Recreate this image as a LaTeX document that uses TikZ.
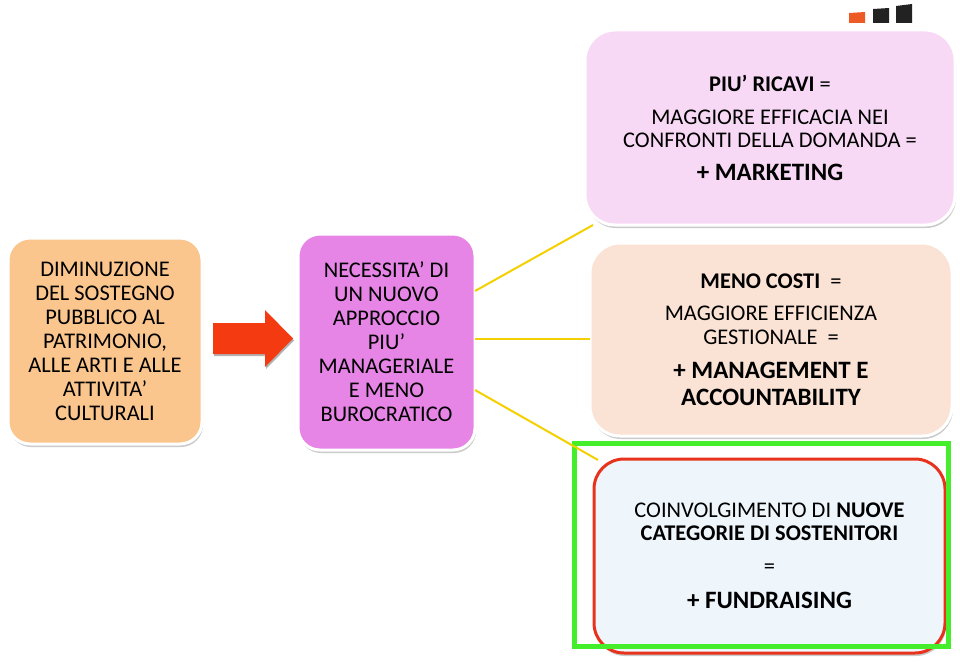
\documentclass[tikz,border=0pt]{standalone}
\usepackage{fontspec}
\setmainfont{Carlito}
\usetikzlibrary{shadows}
\definecolor{orangebox}{HTML}{FBC68E}
\definecolor{violetbox}{HTML}{E685E6}
\definecolor{pinkbox}{HTML}{F8D9F5}
\definecolor{peachbox}{HTML}{FAE2D5}
\definecolor{bluebox}{HTML}{EEF6FC}
\definecolor{redline}{HTML}{E8331C}
\definecolor{greenline}{HTML}{44EE2A}
\definecolor{yellowline}{HTML}{F4D000}
\definecolor{arrowred}{HTML}{F43A10}
\definecolor{logoorange}{HTML}{EE5A24}
\definecolor{logoblack}{HTML}{222222}
\newcommand{\bigb}{\fontsize{25}{27}\selectfont\bfseries}
\tikzset{
  box/.style={rectangle, rounded corners=22pt, draw=white, line width=3pt,
    align=center, inner sep=0pt,
    drop shadow={shadow xshift=1pt, shadow yshift=-3pt, opacity=0.35, fill=black!60},
    font=\fontsize{22.4}{24}\selectfont},
  conn/.style={draw=yellowline, line width=2pt},
}
\begin{document}
\begin{tikzpicture}[x=1pt,y=-1pt]
\useasboundingbox (0,0) rectangle (960,661);
% logo
\fill[logoorange] (849,13) -- (865,12) -- (865,23) -- (849,23) -- cycle;
\fill[logoblack] (873,9) -- (889,8) -- (889,23) -- (873,23) -- cycle;
\fill[logoblack] (896,6) -- (912,4) -- (912,23) -- (896,23) -- cycle;
% boxes
\node[box, fill=orangebox, minimum width=194pt, minimum height=206pt] (left) at (105,341)
  {DIMINUZIONE\\DEL SOSTEGNO\\PUBBLICO AL\\PATRIMONIO,\\ALLE ARTI E ALLE\\ATTIVITA’\\CULTURALI};
\node[box, fill=violetbox, minimum width=177pt, minimum height=216pt] (mid) at (386.5,342)
  {NECESSITA’ DI\\UN NUOVO\\APPROCCIO\\PIU’\\MANAGERIALE\\E MENO\\BUROCRATICO};
\node[box, fill=pinkbox, rounded corners=30pt, minimum width=370pt, minimum height=195pt,
  font=\fontsize{22.4}{23}\selectfont] (top) at (770,127.5)
  {\textbf{PIU’ RICAVI} =\\[10pt]MAGGIORE EFFICACIA NEI\\CONFRONTI DELLA DOMANDA =\\[10pt]\bigb + MARKETING};
\node[box, fill=peachbox, rounded corners=30pt, minimum width=362pt, minimum height=193pt,
  font=\fontsize{22.4}{24}\selectfont] (cost) at (771,339.5)
  {\textbf{MENO COSTI} \ =\\[8pt]MAGGIORE EFFICIENZA\\GESTIONALE \ =\\[10pt]\bigb + MANAGEMENT E\\[3pt]\bigb ACCOUNTABILITY};
\node[box, fill=bluebox, draw=redline, rounded corners=30pt, minimum width=351pt, minimum height=194pt,
  font=\fontsize{22.4}{23}\selectfont] (fund) at (769.5,556)
  {COINVOLGIMENTO DI \textbf{NUOVE}\\\textbf{CATEGORIE DI SOSTENITORI}\\[10pt]=\\[12pt]\bigb + FUNDRAISING};
\node[draw=greenline, line width=5pt, inner sep=0pt, minimum width=374pt, minimum height=203pt] (frame) at (761,544.5) {};
% big red arrow
\fill[arrowred, drop shadow={shadow xshift=1pt, shadow yshift=-2pt, opacity=0.3, fill=black}]
  (213,323) -- (265,323) -- (265,310) -- (293,338.5) -- (265,367) -- (265,354) -- (213,354) -- cycle;
% connectors
\coordinate (m1) at (475,291);
\coordinate (m2) at (475,339);
\coordinate (m3) at (475,390);
\coordinate (t1) at (593,225);
\coordinate (t2) at (590,339);
\coordinate (t3) at (598,460);
\draw[conn] (m1) -- (t1);
\draw[conn] (m2) -- (t2);
\draw[conn] (m3) -- (t3);
\end{tikzpicture}
\end{document}
